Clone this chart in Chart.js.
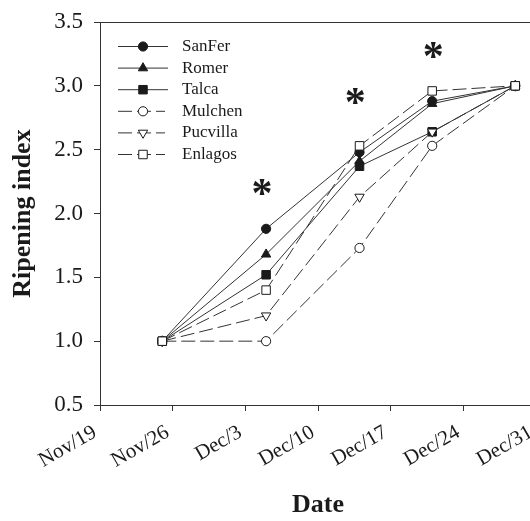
<!DOCTYPE html>
<html>
<head>
<meta charset="utf-8">
<script src="https://cdn.jsdelivr.net/npm/chart.js@4.4.1/dist/chart.umd.min.js"></script>
<style>
  html, body { margin: 0; padding: 0; background: #fff; overflow: hidden; }
  #wrap { position: relative; width: 546px; height: 521px; }
</style>
</head>
<body>
<div id="wrap"><canvas id="chart"></canvas></div>
<script>
/* ── DATA ───────────────────────────────────────────────────────────────── */
// x positions are days after Nov/19
const tickLabels = ["Nov/19", "Nov/26", "Dec/3", "Dec/10", "Dec/17", "Dec/24", "Dec/31"];
const sampleDays = [6, 16, 25, 32, 40];

const seriesNames = ["SanFer", "Romer", "Talca", "Mulchen", "Pucvilla", "Enlagos"];
const sanFer   = [1.0, 1.88, 2.48, 2.88, 3.0];
const romer    = [1.0, 1.68, 2.41, 2.86, 3.0];
const talca    = [1.0, 1.52, 2.37, 2.64, 3.0];
const mulchen  = [1.0, 1.0, 1.73, 2.53, 3.0];
const pucvilla = [1.0, 1.2, 2.13, 2.64, 3.0];
const enlagos  = [1.0, 1.4, 2.53, 2.96, 3.0];

// significance marks
const starDays   = [15.6, 24.6, 32.1];
const starValues = [2.21, 2.92, 3.28];

/* ── STYLE ──────────────────────────────────────────────────────────────── */
const INK = "#1a1a1a";
const LINE = "#333333";
const SERIF = "'Liberation Serif', 'Times New Roman', serif";
const DASH = [14, 5];

const seriesStyle = [
  { shape: "circle",   fill: INK,    dash: [], r: 4.6, rot: 0 },
  { shape: "triangle", fill: INK,    dash: [], r: 5.4, rot: 0 },
  { shape: "rect",     fill: INK,    dash: [], r: 6.0, rot: 0 },
  { shape: "circle",   fill: "#fff", dash: DASH, r: 4.6, rot: 0 },
  { shape: "triangle", fill: "#fff", dash: DASH, r: 5.4, rot: 180 },
  { shape: "rect",     fill: "#fff", dash: DASH, r: 6.0, rot: 0 },
];

const seriesValues = [sanFer, romer, talca, mulchen, pucvilla, enlagos];

function toPoints(vals) {
  return vals.map((v, i) => ({ x: sampleDays[i], y: v }));
}

const datasets = seriesNames.map((name, i) => {
  const s = seriesStyle[i];
  return {
    label: name,
    data: toPoints(seriesValues[i]),
    borderColor: LINE,
    borderWidth: 1,
    borderDash: s.dash,
    pointStyle: s.shape,
    pointRotation: s.rot,
    pointRadius: s.r,
    pointBackgroundColor: s.fill,
    pointBorderColor: INK,
    pointBorderWidth: 1,
    tension: 0,
    order: seriesNames.length - i,
  };
});

/* ── FRAME PLUGIN: top edge of the plot box ─────────────────────────────── */
const framePlugin = {
  id: "frame",
  afterDraw(chart) {
    const { ctx, chartArea: { left, right, top, bottom } } = chart;
    ctx.save();
    ctx.strokeStyle = LINE;
    ctx.lineWidth = 1;
    ctx.strokeRect(left + 0.5, top + 0.5, right - left, bottom - top);
    ctx.restore();
  },
};

/* ── STAR PLUGIN: asterisks placed through the scales ───────────────────── */
const starPlugin = {
  id: "stars",
  afterDatasetsDraw(chart) {
    const { ctx, scales: { x, y } } = chart;
    ctx.save();
    ctx.font = `bold 42px ${SERIF}`;
    ctx.fillStyle = INK;
    ctx.textAlign = "center";
    ctx.textBaseline = "alphabetic";
    const m = ctx.measureText("*");
    const shift = (m.actualBoundingBoxAscent - m.actualBoundingBoxDescent) / 2;
    starDays.forEach((d, i) => {
      ctx.fillText("*", x.getPixelForValue(d), y.getPixelForValue(starValues[i]) + shift);
    });
    ctx.restore();
  },
};

/* ── LEGEND PLUGIN: line sample with marker in the middle ───────────────── */
const legendPlugin = {
  id: "lineLegend",
  afterDraw(chart) {
    const { ctx, chartArea: { left, top } } = chart;
    const x0 = left + 18, x1 = left + 68, tx = left + 82;
    ctx.save();
    ctx.font = `17px ${SERIF}`;
    ctx.textBaseline = "middle";
    ctx.fillStyle = INK;
    chart.data.datasets.forEach((ds, i) => {
      const yy = top + 24.5 + i * 21.6;
      ctx.save();
      ctx.strokeStyle = LINE;
      ctx.lineWidth = 1;
      ctx.setLineDash(ds.borderDash);
      ctx.beginPath();
      ctx.moveTo(x0, yy);
      ctx.lineTo(ds.borderDash.length ? x1 - 3 : x1, yy);
      ctx.stroke();
      ctx.restore();
      ctx.save();
      ctx.fillStyle = ds.pointBackgroundColor;
      ctx.strokeStyle = INK;
      ctx.lineWidth = 1;
      Chart.helpers.drawPoint(ctx, {
        pointStyle: ds.pointStyle,
        rotation: ds.pointRotation,
        radius: ds.pointRadius,
        borderWidth: 1,
      }, (x0 + x1) / 2, yy);
      ctx.restore();
      ctx.fillText(ds.label, tx, yy);
    });
    ctx.restore();
  },
};

/* ── CHART ──────────────────────────────────────────────────────────────── */
new Chart(document.getElementById("chart"), {
  type: "line",
  data: { datasets },
  plugins: [framePlugin, starPlugin, legendPlugin],
  options: {
    responsive: true,
    maintainAspectRatio: false,
    animation: false,
    layout: { padding: { left: 0, top: 22, right: 10, bottom: 0 } },
    plugins: { legend: { display: false }, tooltip: { enabled: false } },
    scales: {
      x: {
        type: "linear",
        min: 0,
        max: 42,
        afterFit(scale) {
          scale.height = 116;
          scale.paddingLeft = 0;
          scale.paddingRight = 0;
        },
        afterBuildTicks(scale) {
          scale.ticks = tickLabels.map((_, i) => ({ value: i * 7 }));
        },
        border: { display: true, color: LINE, width: 1 },
        grid: { display: true, drawOnChartArea: false, drawTicks: true, tickLength: 6, color: LINE },
        ticks: {
          autoSkip: false,
          minRotation: 30,
          maxRotation: 30,
          padding: 9,
          labelOffset: -5,
          color: INK,
          font: { family: SERIF, size: 21 },
          callback: (v) => tickLabels[Math.round(v / 7)],
        },
        title: {
          display: true,
          text: "Date",
          color: INK,
          font: { family: SERIF, size: 26, weight: "bold" },
          padding: { top: 1, bottom: 0 },
        },
      },
      y: {
        min: 0.5,
        max: 3.5,
        afterFit(scale) {
          scale.width = 100;
          scale.paddingTop = 0;
          scale.paddingBottom = 0;
        },
        border: { display: true, color: LINE, width: 1 },
        grid: { display: true, drawOnChartArea: false, drawTicks: true, tickLength: 6, color: LINE },
        ticks: {
          stepSize: 0.5,
          padding: 11,
          color: INK,
          font: { family: SERIF, size: 23 },
          callback: (v) => v.toFixed(1),
        },
        title: {
          display: true,
          text: "Ripening index",
          color: INK,
          font: { family: SERIF, size: 26, weight: "bold" },
          padding: { top: 8, bottom: 0 },
        },
      },
    },
  },
});
</script>
</body>
</html>
